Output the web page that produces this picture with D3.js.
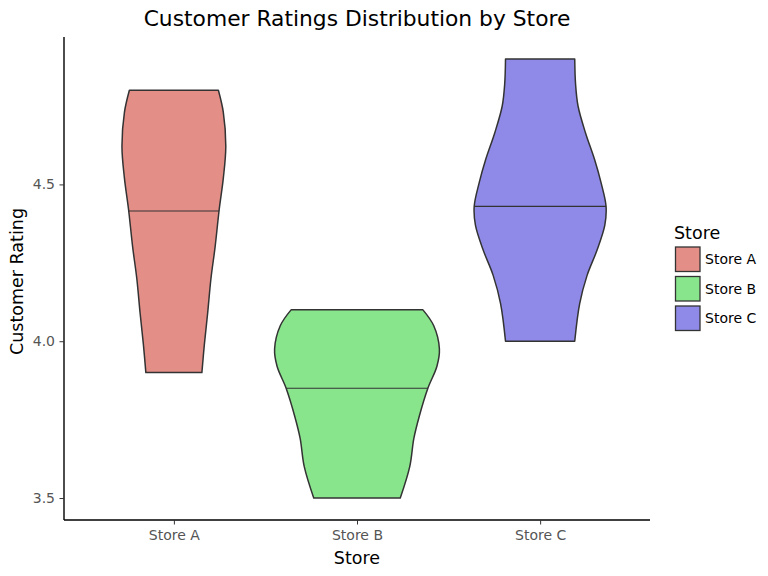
<!DOCTYPE html>
<html><head><meta charset="utf-8">
<script src="https://cdn.jsdelivr.net/npm/d3@7"></script>
<style>body{margin:0;background:#fff}svg{display:block}text{font-family:"DejaVu Sans",sans-serif}</style>
</head><body>
<svg id="c" width="768" height="576"></svg>
<script>
const stores = ["Store A", "Store B", "Store C"];
const colors = ["#e48e88", "#88e58c", "#8f8ae8"];
const medians = [4.415, 3.85, 4.43];
const yTicks = [3.5, 4.0, 4.5];
// violin outlines: rating levels and relative density (1 = widest)
const levelsA = [4.80, 4.73, 4.62, 4.52, 4.42, 4.30, 4.20, 4.09, 3.99, 3.90];
const densityA = [0.54, 0.60, 0.63, 0.60, 0.55, 0.50, 0.45, 0.41, 0.37, 0.34];
const levelsB = [4.10, 4.05, 3.975, 3.92, 3.85, 3.76, 3.69, 3.60, 3.50];
const densityB = [0.80, 0.93, 1.00, 0.97, 0.86, 0.755, 0.69, 0.64, 0.525];
const levelsC = [4.90, 4.82, 4.75, 4.665, 4.58, 4.505, 4.43, 4.37, 4.29, 4.21, 4.12, 4.00];
const densityC = [0.42, 0.43, 0.46, 0.55, 0.66, 0.74, 0.80, 0.785, 0.69, 0.57, 0.48, 0.42];
const levels = [levelsA, levelsB, levelsC];
const density = [densityA, densityB, densityC];

const svg = d3.select("#c");
const L = 64, R = 650, T = 37, B = 520;
const x = d3.scalePoint().domain(stores).range([L, R]).padding(0.6);
const step = x.step();
const y = d3.scaleLinear().domain([3.43, 4.97]).range([B, T]);
const halfMax = step * 0.45;

stores.forEach((s, i) => {
  const pts = levels[i].map((v, j) => ({v, d: density[i][j]}));
  const cx = x(s);
  const area = d3.area()
    .y(p => y(p.v))
    .x0(p => cx - p.d * halfMax)
    .x1(p => cx + p.d * halfMax)
    .curve(d3.curveCatmullRom);
  const dPath = area(pts);
  svg.append("clipPath").attr("id", "clip" + i).append("path").attr("d", dPath);
  svg.append("path").attr("d", dPath).attr("fill", colors[i])
    .attr("stroke", "#333").attr("stroke-width", 1.5).attr("stroke-linejoin", "round");
  svg.append("line").attr("clip-path", `url(#clip${i})`)
    .attr("x1", cx - halfMax - 5).attr("x2", cx + halfMax + 5)
    .attr("y1", y(medians[i])).attr("y2", y(medians[i]))
    .attr("stroke", "#333").attr("stroke-width", 1.1);
});

// axes
const yAxis = d3.axisLeft(y).tickValues(yTicks).tickFormat(d3.format(".1f")).tickSize(4.5).tickPadding(4.5);
const gy = svg.append("g").attr("transform", `translate(${L},0)`).call(yAxis);
gy.attr("font-family", null).attr("font-size", null);
gy.select(".domain").attr("d", `M0,${T}V${B}`).attr("stroke", "#000").attr("stroke-width", 1.4);
gy.selectAll(".tick line").attr("stroke", "#333");
gy.selectAll(".tick text").attr("fill", "#555").style("font-size", "14px");

const xAxis = d3.axisBottom(x).tickSize(4.5).tickPadding(5.5);
const gx = svg.append("g").attr("transform", `translate(0,${B})`).call(xAxis);
gx.attr("font-family", null).attr("font-size", null);
gx.select(".domain").attr("d", `M${L},0H${R}`).attr("stroke", "#000").attr("stroke-width", 1.4);
gx.selectAll(".tick line").attr("stroke", "#333");
gx.selectAll(".tick text").attr("fill", "#555").style("font-size", "14px");

// titles
svg.append("text").attr("x", (L + R) / 2).attr("y", 26).attr("text-anchor", "middle")
  .style("font-size", "21.8px").attr("fill", "#000").text("Customer Ratings Distribution by Store");
svg.append("text").attr("x", (L + R) / 2).attr("y", 564).attr("text-anchor", "middle")
  .style("font-size", "17.5px").attr("fill", "#000").text("Store");
svg.append("text").attr("transform", `translate(22.5,${(T + B) / 2 + 3}) rotate(-90)`).attr("text-anchor", "middle")
  .style("font-size", "17.5px").attr("fill", "#000").text("Customer Rating");

// legend
const lg = svg.append("g");
lg.append("text").attr("x", 674).attr("y", 238.5).style("font-size", "17.5px").attr("fill", "#000").text("Store");
stores.forEach((s, i) => {
  const yy = 247 + i * 29.5;
  lg.append("rect").attr("x", 675.5).attr("y", yy).attr("width", 24.5).attr("height", 24.5)
    .attr("fill", colors[i]).attr("stroke", "#333").attr("stroke-width", 1.3);
  lg.append("text").attr("x", 705).attr("y", yy + 17).style("font-size", "14px").attr("fill", "#000").text(s);
});
</script>
</body></html>
